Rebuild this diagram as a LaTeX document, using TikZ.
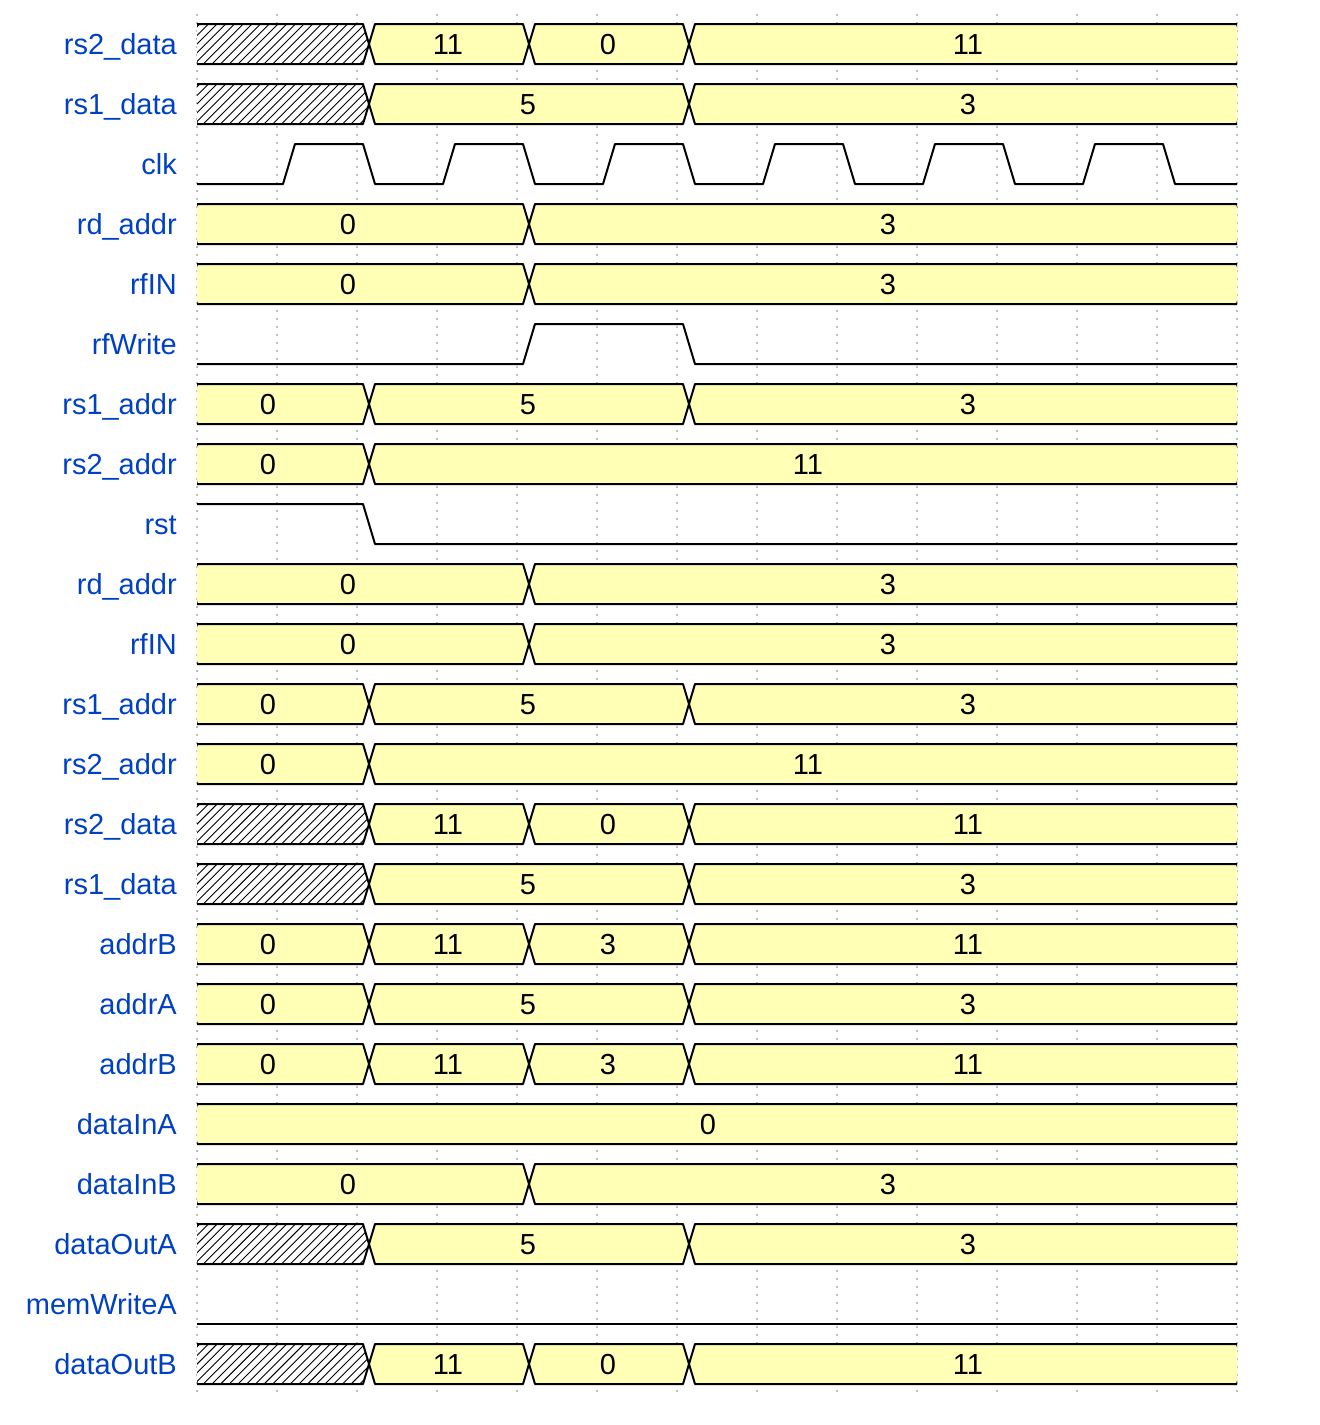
\documentclass[tikz,border=0pt]{standalone}
\usepackage{fontspec}
\setmainfont{Liberation Sans}
\definecolor{wblue}{RGB}{0,65,196}
\definecolor{wyel}{RGB}{255,255,182}
\definecolor{wgrid}{RGB}{190,190,190}
\tikzset{
  lab/.style={anchor=base east, text=wblue, font=\fontsize{29}{32}\selectfont, inner sep=0pt},
  val/.style={anchor=base, font=\fontsize{29}{32}\selectfont, inner sep=0pt},
  wire/.style={line width=2pt, line join=round},
  gridline/.style={wgrid, line width=2pt, dash pattern=on 2pt off 6pt},
  busfill/.style={fill=wyel, draw=black, line width=2pt, line join=round},
  hatchline/.style={line width=0.9pt},
}
% yellow bus segment: #1 row centre, #2 left crossing, #3 right crossing
\newcommand\ySeg[3]{%
  \filldraw[busfill] (#2+6,#1-20) -- (#3-6,#1-20) -- (#3,#1) -- (#3-6,#1+20) -- (#2+6,#1+20) -- (#2,#1) -- cycle;}
% hatched (undefined) segment
\newcommand\hSeg[3]{%
  \begin{scope}
    \clip (#2+6,#1-20) -- (#3-6,#1-20) -- (#3,#1) -- (#3-6,#1+20) -- (#2+6,#1+20) -- (#2,#1) -- cycle;
    \fill[white] (#2,#1-20) rectangle (#3,#1+20);
    \foreach \k in {0,...,27} \draw[hatchline] ({#2-40+\k*8.7},#1+20) -- ++(40,-40);
  \end{scope}
  \draw[wire] (#2+6,#1-20) -- (#3-6,#1-20) -- (#3,#1) -- (#3-6,#1+20) -- (#2+6,#1+20) -- (#2,#1) -- cycle;}
% row types
\newcommand\rowDataB[2]{% hatch | 11 | 0 | 11
  \hSeg{#1}{191}{369}\ySeg{#1}{369}{529}\ySeg{#1}{529}{689}\ySeg{#1}{689}{1243}
  \node[val] (#2a) at (448,#1+10.4) {11};
  \node[val] (#2b) at (608,#1+10.4) {0};
  \node[val] (#2c) at (968,#1+10.4) {11};}
\newcommand\rowDataA[2]{% hatch | 5 | 3
  \hSeg{#1}{191}{369}\ySeg{#1}{369}{689}\ySeg{#1}{689}{1243}
  \node[val] (#2a) at (528,#1+10.4) {5};
  \node[val] (#2b) at (968,#1+10.4) {3};}
\newcommand\rowRd[2]{% 0 | 3
  \ySeg{#1}{191}{529}\ySeg{#1}{529}{1243}
  \node[val] (#2a) at (348,#1+10.4) {0};
  \node[val] (#2b) at (888,#1+10.4) {3};}
\newcommand\rowAddrA[2]{% 0 | 5 | 3
  \ySeg{#1}{191}{369}\ySeg{#1}{369}{689}\ySeg{#1}{689}{1243}
  \node[val] (#2a) at (268,#1+10.4) {0};
  \node[val] (#2b) at (528,#1+10.4) {5};
  \node[val] (#2c) at (968,#1+10.4) {3};}
\newcommand\rowAddrB[2]{% 0 | 11
  \ySeg{#1}{191}{369}\ySeg{#1}{369}{1243}
  \node[val] (#2a) at (268,#1+10.4) {0};
  \node[val] (#2b) at (808,#1+10.4) {11};}
\newcommand\rowFour[2]{% 0 | 11 | 3 | 11
  \ySeg{#1}{191}{369}\ySeg{#1}{369}{529}\ySeg{#1}{529}{689}\ySeg{#1}{689}{1243}
  \node[val] (#2a) at (268,#1+10.4) {0};
  \node[val] (#2b) at (448,#1+10.4) {11};
  \node[val] (#2c) at (608,#1+10.4) {3};
  \node[val] (#2d) at (968,#1+10.4) {11};}
\begin{document}
\begin{tikzpicture}[x=1pt,y=-1pt]
\useasboundingbox (0,0) rectangle (1320,1425);
\fill[white] (0,0) rectangle (1320,1425);
% grid
\foreach \g in {0,...,13} \draw[gridline] (197+80*\g,14) -- (197+80*\g,1393);
% waves
\begin{scope}
\clip (197,0) rectangle (1237,1425);
\rowDataB{44}{r0}
\rowDataA{104}{r1}
\draw[wire] (191,184) foreach \t in {0,...,5} { -- (283+160*\t,184) -- (295+160*\t,144) -- (363+160*\t,144) -- (375+160*\t,184) } -- (1243,184);
\rowRd{224}{r3}
\rowRd{284}{r4}
\draw[wire] (191,364) -- (523,364) -- (535,324) -- (683,324) -- (695,364) -- (1243,364);
\rowAddrA{404}{r6}
\rowAddrB{464}{r7}
\draw[wire] (191,504) -- (363,504) -- (375,544) -- (1243,544);
\rowRd{584}{r9}
\rowRd{644}{r10}
\rowAddrA{704}{r11}
\rowAddrB{764}{r12}
\rowDataB{824}{r13}
\rowDataA{884}{r14}
\rowFour{944}{r15}
\rowAddrA{1004}{r16}
\rowFour{1064}{r17}
\ySeg{1124}{191}{1243}
\node[val] (r18a) at (708,1134.4) {0};
\rowRd{1184}{r19}
\rowDataA{1244}{r20}
\draw[wire] (191,1324) -- (1243,1324);
\rowDataB{1364}{r22}
\end{scope}
% labels
\node[lab] (l0) at (177,54.4) {rs2\_data};
\node[lab] (l1) at (177,114.4) {rs1\_data};
\node[lab] (l2) at (177,174.4) {clk};
\node[lab] (l3) at (177,234.4) {rd\_addr};
\node[lab] (l4) at (177,294.4) {rfIN};
\node[lab] (l5) at (177,354.4) {rfWrite};
\node[lab] (l6) at (177,414.4) {rs1\_addr};
\node[lab] (l7) at (177,474.4) {rs2\_addr};
\node[lab] (l8) at (177,534.4) {rst};
\node[lab] (l9) at (177,594.4) {rd\_addr};
\node[lab] (l10) at (177,654.4) {rfIN};
\node[lab] (l11) at (177,714.4) {rs1\_addr};
\node[lab] (l12) at (177,774.4) {rs2\_addr};
\node[lab] (l13) at (177,834.4) {rs2\_data};
\node[lab] (l14) at (177,894.4) {rs1\_data};
\node[lab] (l15) at (177,954.4) {addrB};
\node[lab] (l16) at (177,1014.4) {addrA};
\node[lab] (l17) at (177,1074.4) {addrB};
\node[lab] (l18) at (177,1134.4) {dataInA};
\node[lab] (l19) at (177,1194.4) {dataInB};
\node[lab] (l20) at (177,1254.4) {dataOutA};
\node[lab] (l21) at (177,1314.4) {memWriteA};
\node[lab] (l22) at (177,1374.4) {dataOutB};
\end{tikzpicture}
\end{document}
